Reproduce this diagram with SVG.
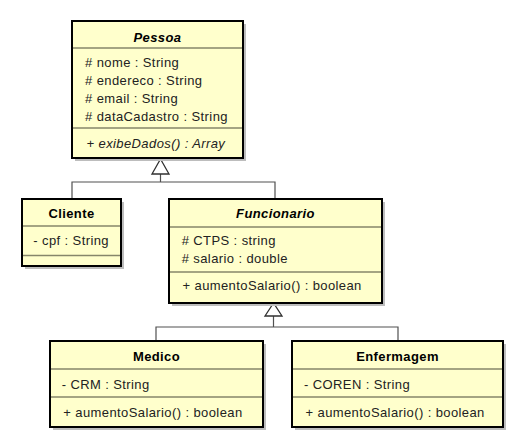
<svg xmlns="http://www.w3.org/2000/svg" width="510" height="432" viewBox="0 0 510 432">
<style>
.shadow{fill:#bdbdbd;stroke:none}
.box{fill:#ffffcc;stroke:#000;stroke-width:2}
.sep{stroke:#86866a;stroke-width:1.3;fill:none}
text{font-family:"Liberation Sans",Arial,sans-serif;font-size:13px;letter-spacing:0.4px;fill:#222}
.title{font-weight:bold;text-anchor:middle;fill:#000}
.it{font-style:italic}
.conn{stroke:#505050;stroke-width:1.2;fill:none}
.tri{fill:#fff;stroke:#303030;stroke-width:1.3}
</style>
<rect width="510" height="432" fill="#fff"/>
<g id="connectors">
<path class="conn" d="M72,199 V182 H275 V199 M160.5,182 V174"/>
<polygon class="tri" points="160.5,159 152,174 169,174"/>
<path class="conn" d="M156,341 V327 H398 V341 M273.5,327 V316"/>
<polygon class="tri" points="273.5,303 265,316 282,316"/>
</g>
<g id="Pessoa">
<rect class="shadow" x="75" y="24" width="171" height="137"/>
<rect class="box" x="72" y="21" width="171" height="137"/>
<line class="sep" x1="73" y1="48" x2="242" y2="48"/>
<line class="sep" x1="73" y1="128" x2="242" y2="128"/>
<text class="title it" x="157.5" y="41.5">Pessoa</text>
<text x="85" y="67.3"># nome : String</text>
<text x="85" y="85"># endereco : String</text>
<text x="85" y="102.7"># email : String</text>
<text x="85" y="120.5"># dataCadastro : String</text>
<text class="it" x="86.5" y="147.5">+ exibeDados() : Array</text>
</g>
<g id="Cliente">
<rect class="shadow" x="25" y="202" width="99" height="67"/>
<rect class="box" x="22" y="199" width="99" height="67"/>
<line class="sep" x1="23" y1="226" x2="120" y2="226"/>
<line class="sep" x1="23" y1="255.5" x2="120" y2="255.5"/>
<text class="title" x="71.5" y="218.3">Cliente</text>
<text x="33.3" y="245">- cpf : String</text>
</g>
<g id="Funcionario">
<rect class="shadow" x="172" y="202" width="213" height="104"/>
<rect class="box" x="169" y="199" width="213" height="104"/>
<line class="sep" x1="170" y1="227" x2="381" y2="227"/>
<line class="sep" x1="170" y1="272" x2="381" y2="272"/>
<text class="title it" x="275.5" y="218.3">Funcionario</text>
<text x="181.7" y="245"># CTPS : string</text>
<text x="181.7" y="262.7"># salario : double</text>
<text x="182.5" y="290">+ aumentoSalario() : boolean</text>
</g>
<g id="Medico">
<rect class="shadow" x="53" y="344" width="213" height="86"/>
<rect class="box" x="50" y="341" width="213" height="86"/>
<line class="sep" x1="51" y1="369" x2="262" y2="369"/>
<line class="sep" x1="51" y1="397" x2="262" y2="397"/>
<text class="title" x="156.5" y="361">Medico</text>
<text x="61.7" y="389.3">- CRM : String</text>
<text x="63.3" y="417.3">+ aumentoSalario() : boolean</text>
</g>
<g id="Enfermagem">
<rect class="shadow" x="295" y="344" width="211" height="86"/>
<rect class="box" x="292" y="341" width="211" height="86"/>
<line class="sep" x1="293" y1="369" x2="502" y2="369"/>
<line class="sep" x1="293" y1="397" x2="502" y2="397"/>
<text class="title" x="397.5" y="361">Enfermagem</text>
<text x="304" y="389.3">- COREN : String</text>
<text x="305.5" y="417.3">+ aumentoSalario() : boolean</text>
</g>
</svg>
